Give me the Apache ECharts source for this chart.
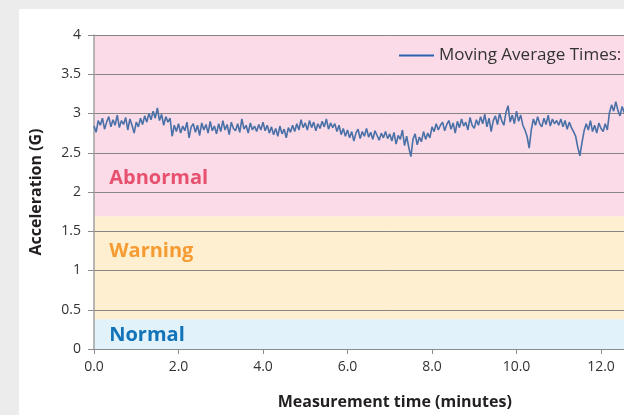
<!DOCTYPE html>
<html>
<head>
<meta charset="utf-8">
<script src="https://cdn.jsdelivr.net/npm/echarts@6/dist/echarts.min.js"></script>
<style>
html,body{margin:0;padding:0;width:624px;height:415px;overflow:hidden;background:#ececec;}
#panel{position:absolute;left:19px;top:9px;width:700px;height:500px;background:#ffffff;}
#chart{position:absolute;left:0;top:0;width:720px;height:415px;}
</style>
</head>
<body>
<div id="panel"></div>
<div id="chart"></div>
<script>
// Sampling step of the trace (minutes)
const timeStep = 0.05;
// Moving-average acceleration (G), every 0.05 min from 0.0
const accel = [
  2.84, 2.76, 2.91, 2.85, 2.94, 2.80, 2.89, 2.96, 2.83, 2.92, 2.85, 2.98, 2.82, 2.91, 2.86, 2.95, 2.79, 2.93, 2.85, 2.75, 2.89,
  2.83, 2.94, 2.86, 2.97, 2.89, 3.00, 2.92, 3.03, 2.94, 3.07,
  2.91, 2.99, 2.85, 2.96, 2.89, 2.94,
  2.71, 2.85, 2.77, 2.87, 2.75, 2.84, 2.78, 2.89, 2.69, 2.83, 2.87, 2.76, 2.85, 2.72, 2.88, 2.79, 2.86, 2.75, 2.90, 2.78, 2.84, 2.74, 2.87,
  2.77, 2.91, 2.79, 2.86, 2.73, 2.89, 2.81, 2.78, 2.87, 2.76, 2.93, 2.80, 2.85, 2.75, 2.88, 2.79, 2.84, 2.77, 2.86, 2.79,
  2.89, 2.78, 2.85, 2.75, 2.83, 2.73, 2.81, 2.71, 2.84, 2.74, 2.80, 2.69, 2.82, 2.76, 2.85, 2.77, 2.87, 2.79, 2.92, 2.82,
  2.88, 2.79, 2.91, 2.82, 2.89, 2.78, 2.87, 2.81, 2.90, 2.83, 2.93, 2.80, 2.88, 2.82, 2.87, 2.77, 2.85, 2.73, 2.81, 2.71,
  2.79, 2.69, 2.77, 2.65, 2.75, 2.80, 2.68, 2.77, 2.71, 2.81, 2.70, 2.76, 2.67, 2.78, 2.72, 2.66, 2.75, 2.69, 2.77, 2.68,
  2.74, 2.65, 2.76, 2.61, 2.72, 2.67, 2.79, 2.59, 2.71, 2.57, 2.45, 2.67, 2.74, 2.60, 2.70, 2.64, 2.77, 2.67, 2.75, 2.69,
  2.83, 2.77, 2.87, 2.79, 2.85, 2.89, 2.78, 2.86, 2.91, 2.80, 2.88, 2.75, 2.90, 2.82, 2.93, 2.84, 2.89, 2.79, 2.95, 2.85,
  2.81, 2.92, 2.85, 2.96, 2.87, 2.99, 2.83, 2.94, 2.77, 2.91, 2.97, 2.86, 3.00, 2.91, 2.85, 3.01, 3.10, 2.89, 2.98, 2.87,
  3.03, 2.90, 2.98, 2.85, 2.79, 2.71, 2.56, 2.79, 2.93, 2.85, 2.96, 2.87, 2.83, 2.94, 2.86, 2.98, 2.84, 2.93, 2.87, 2.91,
  2.85, 2.93, 2.83, 2.91, 2.80, 2.89, 2.82, 2.77, 2.71, 2.57, 2.46, 2.63, 2.78, 2.87, 2.79, 2.91, 2.77, 2.85, 2.75, 2.88,
  2.81, 2.77, 2.87, 2.79, 3.01, 3.11, 3.03, 3.15, 3.04, 2.97, 3.09, 3.01, 3.07, 2.99
];
// Zone boundaries (G)
const zones = [
  {name: 'Normal',   from: 0,    to: 0.38, fill: '#e1f2fa', text: '#1273b8', labelAt: [0.36, 0.17]},
  {name: 'Warning',  from: 0.38, to: 1.69, fill: '#fdefcf', text: '#f69b32', labelAt: [0.36, 1.24]},
  {name: 'Abnormal', from: 1.69, to: 4,    fill: '#fadbe7', text: '#e8506f', labelAt: [0.36, 2.18]}
];
const seriesName = 'Moving Average Times:';
const xTicks = {min: 0, max: 14, interval: 2};
const yTicks = {min: 0, max: 4, interval: 0.5};

const points = accel.map((v, i) => [+(i * timeStep).toFixed(2), v]);

const chart = echarts.init(document.getElementById('chart'), null, {renderer: 'canvas'});
chart.setOption({
  backgroundColor: 'transparent',
  animation: false,
  textStyle: {fontFamily: 'Open Sans'},
  grid: {left: 94, top: 35, bottom: 66, right: 34.5, containLabel: false},
  legend: {
    left: 394, top: 42,
    itemWidth: 35, itemHeight: 12, itemGap: 10,
    data: [{name: seriesName, icon: 'path://M0,5 L35,5 L35,7 L0,7 Z', itemStyle: {color: '#2b63ae'}}],
    textStyle: {fontSize: 17, color: '#333333', fontFamily: 'Open Sans'}
  },
  xAxis: {
    type: 'value', min: xTicks.min, max: xTicks.max, interval: xTicks.interval,
    z: 3,
    name: 'Measurement time (minutes)', nameLocation: 'middle', nameGap: 45,
    nameTextStyle: {fontSize: 16, fontWeight: 'bold', color: '#231f20', padding: [0, 0, 0, 10]},
    axisLine: {show: true, lineStyle: {color: '#8c8c8c', width: 1}},
    axisTick: {show: true, length: 5, lineStyle: {color: '#8c8c8c'}},
    axisLabel: {fontSize: 14, color: '#333333', margin: 11, formatter: v => v.toFixed(1)},
    splitLine: {show: false}
  },
  yAxis: {
    type: 'value', min: yTicks.min, max: yTicks.max, interval: yTicks.interval,
    z: 3,
    name: 'Acceleration (G)', nameLocation: 'middle', nameGap: 50, nameRotate: 90,
    nameTextStyle: {fontSize: 16, fontWeight: 'bold', color: '#231f20'},
    axisLine: {show: true, lineStyle: {color: '#a0a0a0', width: 1.5}},
    axisTick: {show: true, length: 6, lineStyle: {color: '#8c8c8c'}},
    axisLabel: {fontSize: 14, color: '#333333', margin: 13},
    splitLine: {show: true, lineStyle: {color: '#858585', width: 1}}
  },
  series: [{
    name: 'zones',
    type: 'line',
    data: [],
    z: 1,
    silent: true,
    markArea: {
      silent: true,
      data: zones.map(z => [
        {yAxis: z.from, itemStyle: {color: z.fill}},
        {yAxis: z.to}
      ])
    },
    markPoint: {
      silent: true,
      symbol: 'circle', symbolSize: 0,
      data: zones.map(z => ({
        coord: z.labelAt, value: z.name,
        label: {show: true, position: 'right', distance: 0, formatter: z.name,
                color: z.text, fontSize: 20, fontWeight: 'bold', fontFamily: 'Open Sans'}
      }))
    }
  }, {
    name: seriesName,
    type: 'line',
    data: points,
    showSymbol: false, symbol: 'none',
    lineStyle: {color: '#4a70a8', width: 1.6},
    itemStyle: {color: '#2b63ae'},
    z: 5
  }]
});
</script>
</body>
</html>
